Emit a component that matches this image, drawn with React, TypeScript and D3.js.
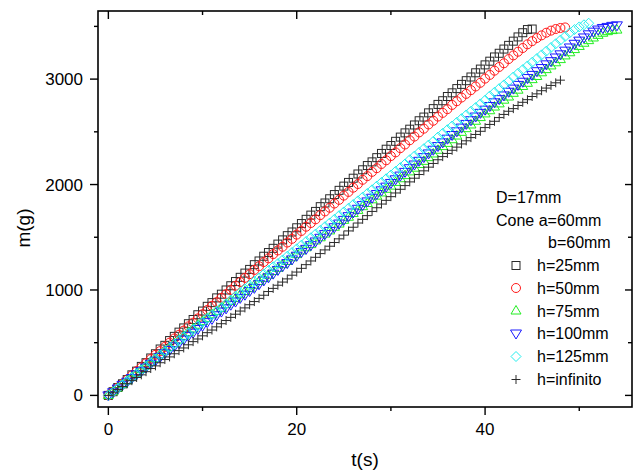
import React from 'react';
import * as d3 from 'd3';

// time step between samples (s)
const dt = 0.5;

// m(g), one value every 0.5 s starting at t = 0
const h25 = [0, 35, 75, 110, 150, 195, 230, 275, 310, 355,
  395, 440, 475, 520, 560, 600, 640, 680, 720, 765,
  800, 845, 880, 925, 960, 1000, 1040, 1080, 1120, 1160,
  1195, 1240, 1275, 1320, 1355, 1395, 1435, 1475, 1515, 1550,
  1590, 1630, 1670, 1710, 1745, 1790, 1825, 1865, 1905, 1945,
  1985, 2020, 2060, 2100, 2140, 2180, 2215, 2255, 2295, 2335,
  2370, 2410, 2450, 2490, 2525, 2565, 2605, 2640, 2680, 2720,
  2760, 2795, 2835, 2870, 2910, 2950, 2985, 3020, 3060, 3095,
  3135, 3170, 3210, 3245, 3285, 3320, 3360, 3400, 3440, 3470, 3475];

const h50 = [0, 35, 75, 110, 150, 190, 230, 265, 305, 345,
  385, 420, 460, 500, 540, 575, 615, 655, 690, 730,
  770, 810, 850, 885, 925, 960, 1000, 1040, 1075, 1115,
  1150, 1190, 1225, 1265, 1300, 1340, 1375, 1410, 1450, 1485,
  1525, 1560, 1600, 1635, 1670, 1710, 1745, 1780, 1820, 1855,
  1895, 1930, 1970, 2005, 2045, 2080, 2120, 2155, 2195, 2230,
  2270, 2305, 2345, 2380, 2420, 2455, 2495, 2530, 2570, 2605,
  2645, 2680, 2715, 2755, 2790, 2825, 2860, 2895, 2930, 2965,
  3005, 3040, 3080, 3115, 3150, 3190, 3225, 3260, 3295, 3330,
  3360, 3390, 3415, 3440, 3460, 3475, 3485, 3490];

const h75 = [0, 35, 70, 105, 140, 175, 210, 245, 280, 315,
  350, 385, 420, 455, 490, 525, 560, 595, 630, 665,
  700, 730, 765, 795, 825, 860, 890, 920, 955, 985,
  1015, 1045, 1080, 1110, 1140, 1175, 1205, 1240, 1270, 1305,
  1335, 1370, 1400, 1430, 1465, 1495, 1530, 1560, 1595, 1625,
  1660, 1690, 1725, 1755, 1790, 1820, 1855, 1890, 1920, 1955,
  1985, 2020, 2055, 2085, 2120, 2155, 2190, 2220, 2255, 2290,
  2325, 2360, 2390, 2425, 2460, 2495, 2530, 2565, 2600, 2635,
  2670, 2700, 2735, 2765, 2800, 2830, 2865, 2895, 2930, 2960,
  2995, 3025, 3060, 3090, 3125, 3155, 3185, 3220, 3250, 3280,
  3310, 3340, 3365, 3390, 3415, 3435, 3450, 3460, 3465];

const h100 = [0, 30, 65, 100, 130, 165, 200, 230, 265, 300,
  330, 365, 400, 430, 465, 495, 530, 565, 595, 630,
  660, 695, 725, 760, 795, 825, 860, 890, 925, 955,
  990, 1020, 1055, 1090, 1120, 1155, 1190, 1225, 1255, 1290,
  1325, 1360, 1390, 1425, 1460, 1495, 1530, 1560, 1595, 1630,
  1665, 1700, 1735, 1770, 1805, 1840, 1875, 1910, 1945, 1980,
  2015, 2050, 2085, 2120, 2155, 2190, 2225, 2260, 2295, 2330,
  2365, 2400, 2435, 2470, 2505, 2540, 2575, 2610, 2645, 2680,
  2710, 2745, 2780, 2810, 2845, 2880, 2910, 2945, 2975, 3010,
  3040, 3075, 3105, 3140, 3170, 3205, 3235, 3270, 3300, 3335,
  3365, 3395, 3425, 3450, 3470, 3485, 3495, 3505, 3510];

const h125 = [0, 30, 65, 100, 135, 170, 205, 240, 275, 310,
  345, 380, 415, 450, 485, 520, 555, 590, 625, 660,
  695, 730, 765, 800, 835, 870, 905, 940, 975, 1010,
  1045, 1080, 1115, 1150, 1185, 1220, 1250, 1285, 1320, 1355,
  1390, 1425, 1460, 1495, 1530, 1565, 1600, 1635, 1670, 1705,
  1740, 1775, 1810, 1845, 1880, 1915, 1950, 1985, 2020, 2055,
  2090, 2125, 2160, 2195, 2235, 2270, 2305, 2340, 2375, 2410,
  2450, 2485, 2520, 2555, 2590, 2625, 2660, 2695, 2730, 2765,
  2800, 2840, 2875, 2910, 2945, 2980, 3020, 3055, 3090, 3125,
  3160, 3195, 3230, 3265, 3300, 3335, 3370, 3405, 3440, 3470,
  3495, 3515, 3530];

const hInf = [0, 25, 55, 85, 110, 140, 170, 195, 225, 255,
  280, 310, 340, 365, 395, 425, 450, 480, 510, 535,
  565, 595, 620, 650, 680, 710, 740, 770, 800, 830,
  860, 890, 920, 950, 985, 1015, 1045, 1075, 1105, 1140,
  1170, 1205, 1240, 1275, 1310, 1345, 1380, 1415, 1450, 1485,
  1520, 1560, 1595, 1635, 1670, 1705, 1745, 1780, 1815, 1850,
  1885, 1920, 1955, 1990, 2025, 2060, 2095, 2130, 2165, 2200,
  2235, 2265, 2295, 2325, 2355, 2385, 2415, 2445, 2475, 2505,
  2540, 2570, 2600, 2635, 2665, 2695, 2720, 2750, 2780, 2805,
  2835, 2860, 2890, 2915, 2940, 2965, 2990];

const seriesNames = ['h=25mm', 'h=50mm', 'h=75mm', 'h=100mm', 'h=125mm', 'h=infinito'];
const seriesData = [h25, h50, h75, h100, h125, hInf];
const seriesColors = ['#2a2a2a', '#ff1a1a', '#22ee22', '#1a1aff', '#22eeee', '#2a2a2a'];
const seriesShapes = ['square', 'circle', 'up', 'down', 'diamond', 'plus'];

const xMajor = [0, 20, 40];
const xMinor = [10, 30, 50];
const yMajor = [0, 1000, 2000, 3000];
const yMinor = [500, 1500, 2500, 3500];

const W = 641, H = 475;
const L = 98, R = 632, T = 11, B = 407;
const FONT = '"Liberation Sans", Arial, sans-serif';

function Marker({ shape, cx, cy, color }: { shape: string; cx: number; cy: number; color: string }) {
  const p = { fill: 'none', stroke: color, strokeWidth: 1 };
  switch (shape) {
    case 'square':
      return <rect x={cx - 4} y={cy - 4} width={8} height={8} {...p} />;
    case 'circle':
      return <circle cx={cx} cy={cy} r={4.5} {...p} />;
    case 'up':
      return <polygon points={`${cx},${cy - 5.5} ${cx + 5},${cy + 3} ${cx - 5},${cy + 3}`} {...p} />;
    case 'down':
      return <polygon points={`${cx - 5.5},${cy - 3.5} ${cx + 5.5},${cy - 3.5} ${cx},${cy + 5.5}`} {...p} />;
    case 'diamond':
      return <polygon points={`${cx},${cy - 5} ${cx + 5},${cy} ${cx},${cy + 5} ${cx - 5},${cy}`} {...p} />;
    default:
      return <path d={`M${cx - 4.5},${cy}H${cx + 4.5}M${cx},${cy - 4.5}V${cy + 4.5}`} {...p} />;
  }
}

export default function App() {
  const x = d3.scaleLinear().domain([-1.1, 55.6]).range([L, R]);
  const y = d3.scaleLinear().domain([-110, 3646]).range([B, T]);

  const legendX = 516;
  const legendBase = [271, 293.5, 316.5, 339, 362, 385];

  return (
    <svg width={W} height={H} style={{ position: 'absolute', left: 0, top: 0, background: '#fff' }}
      fontFamily={FONT}>
      {seriesData.map((arr, si) => (
        <g key={si}>
          {arr.map((m, i) => (
            <Marker key={i} shape={seriesShapes[si]} cx={x(i * dt)} cy={y(m)} color={seriesColors[si]} />
          ))}
        </g>
      ))}

      <rect x={L} y={T} width={R - L} height={B - T} fill="none" stroke="#000" strokeWidth={1.6} />

      {xMajor.map(v => (
        <g key={'xM' + v}>
          <line x1={x(v)} x2={x(v)} y1={B} y2={B + 8} stroke="#000" strokeWidth={1.4} />
          <line x1={x(v)} x2={x(v)} y1={T} y2={T + 8} stroke="#000" strokeWidth={1.4} />
          <text x={x(v)} y={435} textAnchor="middle" fontSize={17}>{v}</text>
        </g>
      ))}
      {xMinor.map(v => (
        <g key={'xm' + v}>
          <line x1={x(v)} x2={x(v)} y1={B} y2={B + 4} stroke="#000" strokeWidth={1.4} />
          <line x1={x(v)} x2={x(v)} y1={T} y2={T + 4} stroke="#000" strokeWidth={1.4} />
        </g>
      ))}

      {yMajor.map(v => (
        <g key={'yM' + v}>
          <line x1={L - 8} x2={L} y1={y(v)} y2={y(v)} stroke="#000" strokeWidth={1.4} />
          <line x1={R - 7} x2={R} y1={y(v)} y2={y(v)} stroke="#000" strokeWidth={1.4} />
          <text x={83} y={y(v) + 6} textAnchor="end" fontSize={17}>{v}</text>
        </g>
      ))}
      {yMinor.map(v => (
        <g key={'ym' + v}>
          <line x1={L - 4} x2={L} y1={y(v)} y2={y(v)} stroke="#000" strokeWidth={1.4} />
          <line x1={R - 4} x2={R} y1={y(v)} y2={y(v)} stroke="#000" strokeWidth={1.4} />
        </g>
      ))}

      <text x={365} y={466} textAnchor="middle" fontSize={19}>t(s)</text>
      <text transform="translate(30,228) rotate(-90)" textAnchor="middle" fontSize={19}>m(g)</text>

      <text x={496} y={203} fontSize={16}>D=17mm</text>
      <text x={496} y={225.5} fontSize={16}>Cone a=60mm</text>
      <text x={548} y={248} fontSize={16}>b=60mm</text>
      {seriesNames.map((n, i) => (
        <g key={n}>
          <Marker shape={seriesShapes[i]} cx={legendX} cy={legendBase[i] - 5.5} color={seriesColors[i]} />
          <text x={537} y={legendBase[i]} fontSize={16}>{n}</text>
        </g>
      ))}
    </svg>
  );
}
